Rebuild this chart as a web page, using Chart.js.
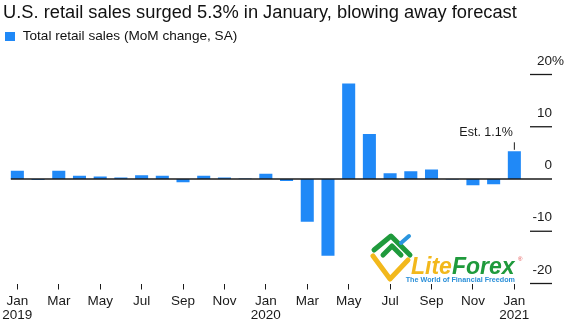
<!DOCTYPE html>
<html lang="en">
<head>
  <meta charset="UTF-8">
  <title>U.S. retail sales surged 5.3% in January</title>
  <script src="https://cdn.jsdelivr.net/npm/chart.js"></script>
  <style>
    body {
      margin: 0;
      background: #fff;
      font-family: 'Liberation Sans', Arial, Helvetica, sans-serif;
      color: #111;
    }
    .wrap {
      position: relative;
      width: 572px;
      height: 326px;
      overflow: hidden;
    }
    canvas {
      position: absolute;
      left: 0;
      top: 0;
    }
    h1 {
      position: absolute;
      left: 3px;
      top: 2.6px;
      margin: 0;
      font-size: 18.3px;
      line-height: 1;
      font-weight: normal;
      white-space: nowrap;
      color: #111;
    }
    .legend {
      position: absolute;
      left: 5px;
      top: 29.2px;
      font-size: 13.6px;
      line-height: 1;
      white-space: nowrap;
    }
    .legend .swatch {
      position: absolute;
      left: 0;
      top: 2.4px;
      width: 10px;
      height: 9.5px;
      background: #2089f7;
    }
    .legend .text {
      position: absolute;
      left: 17.7px;
      top: 0;
    }
  </style>
</head>
<body>
  <div class="wrap">
    <canvas id="chart" width="572" height="326"></canvas>
    <h1>U.S. retail sales surged 5.3% in January, blowing away forecast</h1>
    <div class="legend"><span class="swatch"></span><span class="text">Total retail sales (MoM change, SA)</span></div>
  </div>
  <script>
    const categories = [
      'Jan 2019', 'Feb 2019', 'Mar 2019', 'Apr 2019', 'May 2019', 'Jun 2019',
      'Jul 2019', 'Aug 2019', 'Sep 2019', 'Oct 2019', 'Nov 2019', 'Dec 2019',
      'Jan 2020', 'Feb 2020', 'Mar 2020', 'Apr 2020', 'May 2020', 'Jun 2020',
      'Jul 2020', 'Aug 2020', 'Sep 2020', 'Oct 2020', 'Nov 2020', 'Dec 2020',
      'Jan 2021'
    ];
    // month-over-month change, %
    const retailSalesMoM = [
      1.6, -0.2, 1.6, 0.6, 0.5, 0.3,
      0.7, 0.6, -0.6, 0.6, 0.3, 0.1,
      1.0, -0.4, -8.2, -14.7, 18.3, 8.6,
      1.1, 1.5, 1.8, -0.1, -1.2, -1.0,
      5.3
    ];
    const yTicks = [-20, -10, 0, 10, 20];
    const yTickLabels = ['-20', '-10', '0', '10', '20'];
    const yTopUnit = '%';
    const estimateLabel = 'Est. 1.1%';

    const BLUE = '#2089f7';
    const INK = '#1a1a1a';
    const FONT = "'Liberation Sans', Arial, Helvetica, sans-serif";

    const overlay = {
      id: 'overlay',
      beforeDatasetsDraw(chart) {
        // LiteForex watermark
        const ctx = chart.ctx;
        ctx.save();
        ctx.lineCap = 'round';
        ctx.lineJoin = 'round';
        ctx.lineWidth = 5;
        ctx.strokeStyle = '#f2b81c';
        ctx.beginPath();
        ctx.moveTo(373, 256); ctx.lineTo(390, 279); ctx.lineTo(408, 260);
        ctx.stroke();
        ctx.strokeStyle = '#1f9a3c';
        ctx.beginPath();
        ctx.moveTo(374, 250); ctx.lineTo(391, 236); ctx.lineTo(410, 255);
        ctx.stroke();
        ctx.beginPath();
        ctx.moveTo(383, 255); ctx.lineTo(392, 246); ctx.lineTo(401, 255);
        ctx.stroke();
        ctx.strokeStyle = '#2a95de';
        ctx.lineWidth = 4;
        ctx.beginPath();
        ctx.moveTo(401, 243); ctx.lineTo(409, 236);
        ctx.stroke();

        ctx.font = 'italic bold 23px ' + FONT;
        ctx.textBaseline = 'alphabetic';
        ctx.textAlign = 'left';
        ctx.fillStyle = '#f2b81c';
        ctx.fillText('Lite', 411, 274);
        const w = ctx.measureText('Lite').width;
        ctx.fillStyle = '#1f9a3c';
        ctx.fillText('Forex', 411 + w, 274);
        ctx.fillStyle = '#e04848';
        ctx.font = '6px ' + FONT;
        ctx.fillText('®', 518, 261);
        ctx.font = 'bold 7.2px ' + FONT;
        ctx.fillStyle = '#2a8fd8';
        ctx.textBaseline = 'middle';
        ctx.fillText('The World of Financial Freedom', 405.7, 280);
        ctx.restore();
      },
      afterDatasetsDraw(chart) {
        const { ctx, chartArea, scales: { y } } = chart;
        const bars = chart.getDatasetMeta(0).data;
        const axisEnd = chartArea.right + 27.3;
        ctx.save();
        ctx.strokeStyle = INK;

        // zero line
        const zeroY = y.getPixelForValue(0);
        ctx.lineWidth = 1.3;
        ctx.beginPath();
        ctx.moveTo(bars[0].x - bars[0].width / 2, zeroY);
        ctx.lineTo(axisEnd, zeroY);
        ctx.stroke();

        // right axis: short rules with labels sitting above them
        ctx.font = '13.5px ' + FONT;
        ctx.fillStyle = INK;
        ctx.textBaseline = 'middle';
        y.ticks.forEach((t, i) => {
          const py = y.getPixelForValue(t.value);
          if (t.value !== 0) {
            ctx.lineWidth = 1.3;
            ctx.beginPath();
            ctx.moveTo(chartArea.right + 5.3, py);
            ctx.lineTo(axisEnd, py);
            ctx.stroke();
          }
          ctx.textAlign = 'right';
          ctx.fillText(yTickLabels[i], axisEnd, py - 13.5);
          if (i === y.ticks.length - 1) {
            ctx.textAlign = 'left';
            ctx.fillText(yTopUnit, axisEnd, py - 13.5);
          }
        });

        // estimate callout on the latest bar
        const last = bars[bars.length - 1];
        ctx.lineWidth = 1;
        ctx.beginPath();
        ctx.moveTo(last.x, last.y - 9);
        ctx.lineTo(last.x, last.y - 1.5);
        ctx.stroke();
        ctx.font = '12.5px ' + FONT;
        ctx.textAlign = 'right';
        ctx.fillText(estimateLabel, last.x - 1.5, last.y - 19);
        ctx.restore();
      }
    };

    new Chart(document.getElementById('chart'), {
      type: 'bar',
      data: {
        labels: categories,
        datasets: [{
          label: 'Total retail sales (MoM change, SA)',
          data: retailSalesMoM,
          backgroundColor: BLUE,
          barPercentage: 0.63,
          categoryPercentage: 1
        }]
      },
      options: {
        responsive: false,
        animation: false,
        layout: { padding: { top: 74.5, left: 7, right: 0, bottom: 0 } },
        plugins: {
          legend: { display: false },
          tooltip: { enabled: false }
        },
        scales: {
          x: {
            grid: {
              display: true,
              drawOnChartArea: false,
              drawTicks: true,
              tickLength: 6,
              offset: false,
              lineWidth: 1,
              color: c => (c.index % 2 === 0 ? INK : 'rgba(0,0,0,0)')
            },
            border: { display: false },
            ticks: {
              autoSkip: false,
              maxRotation: 0,
              minRotation: 0,
              padding: 4.3,
              color: INK,
              font: { family: FONT, size: 13.5, lineHeight: 1.07 },
              callback: (v, i) => {
                if (i % 2) return '';
                const [mon, yr] = categories[i].split(' ');
                return mon === 'Jan' ? [mon, yr] : mon;
              }
            },
            afterFit: s => {
              s.height = 42.5;
              s.paddingLeft = 0;
              s.paddingRight = 0;
            }
          },
          y: {
            position: 'right',
            min: -20,
            max: 20,
            afterBuildTicks: s => { s.ticks = yTicks.map(v => ({ value: v })); },
            grid: { display: false, drawTicks: false },
            border: { display: false },
            ticks: { display: false },
            afterFit: s => {
              s.width = 47.3;
              s.paddingTop = 0;
              s.paddingBottom = 0;
            }
          }
        }
      },
      plugins: [overlay]
    });
  </script>
</body>
</html>
